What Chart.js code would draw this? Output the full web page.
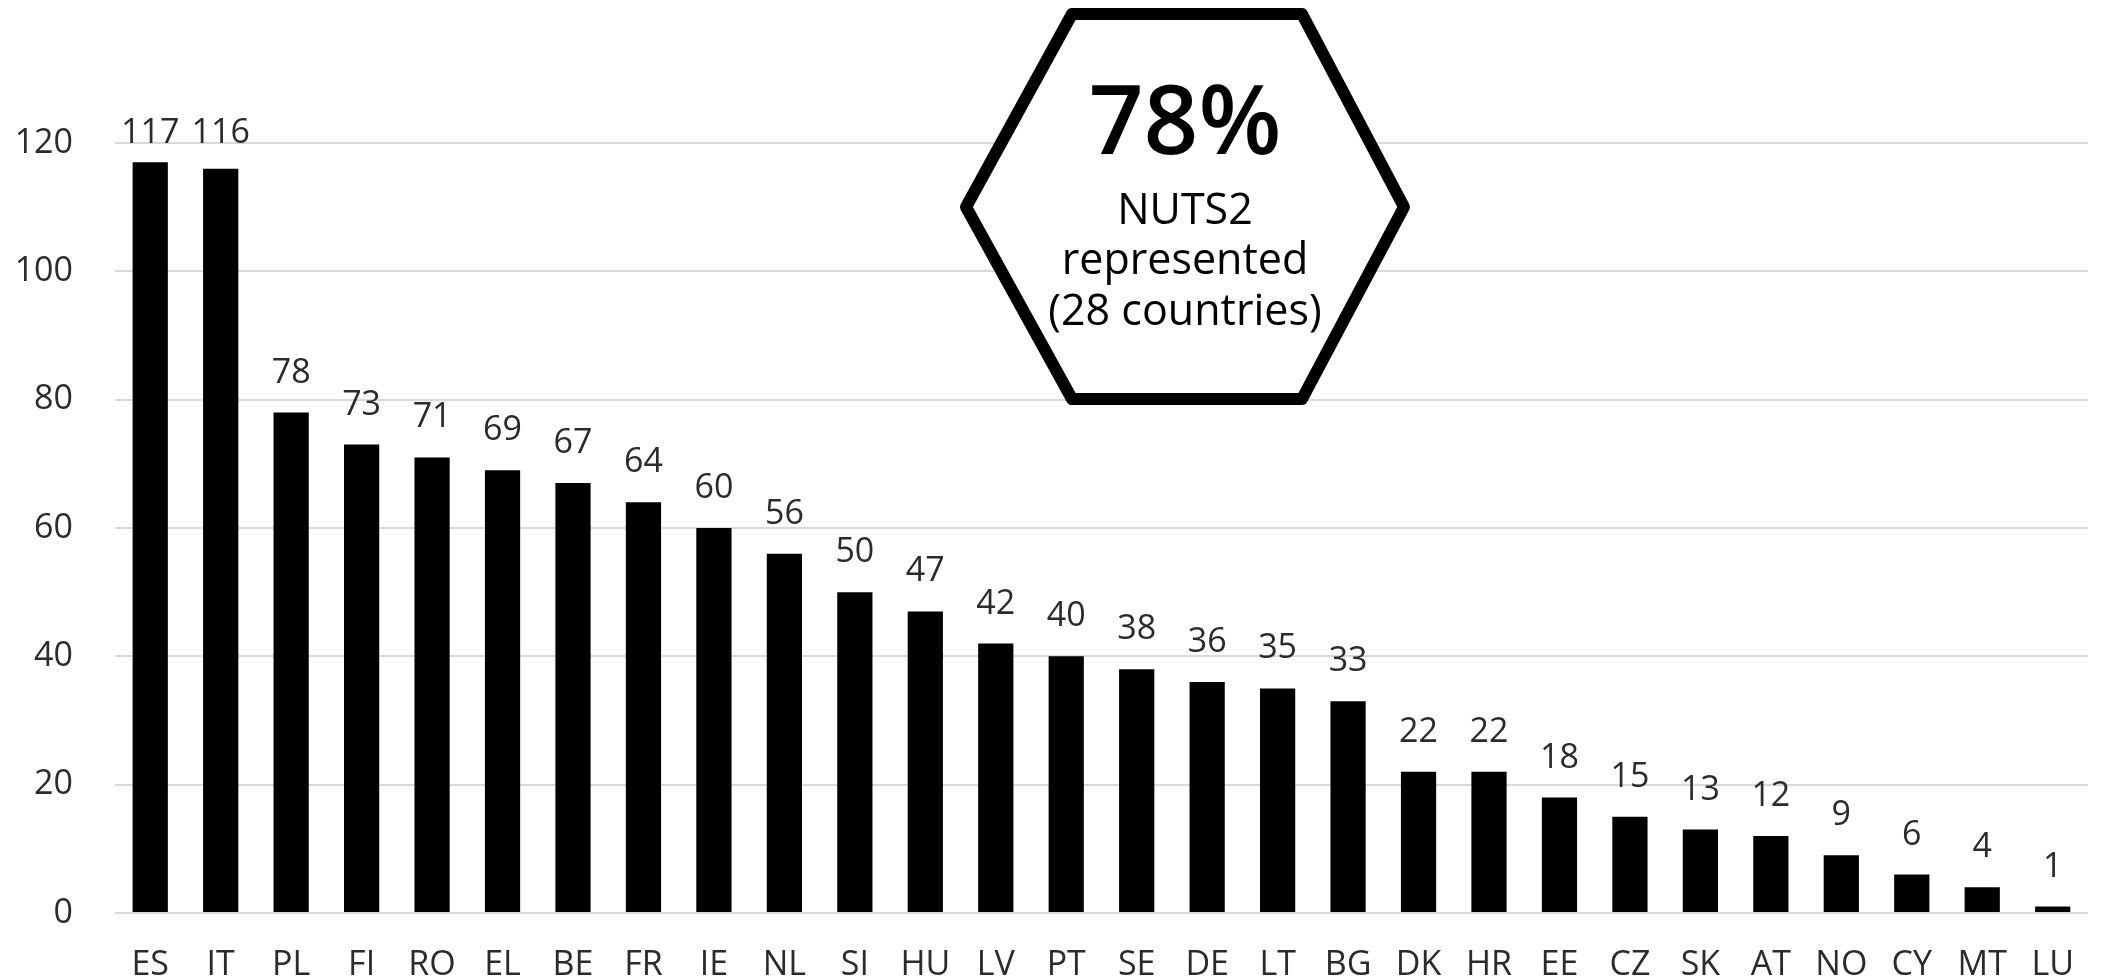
<!DOCTYPE html>
<html>
<head>
<meta charset="utf-8">
<script src="https://cdn.jsdelivr.net/npm/chart.js@4"></script>
<style>
  html, body { margin: 0; padding: 0; background: #fff; }
  #wrap { width: 2106px; height: 979px; }
</style>
</head>
<body>
<div id="wrap"><canvas id="nutsChart"></canvas></div>
<script>
// NUTS2 regions represented per country
const countries = ['ES', 'IT', 'PL', 'FI', 'RO', 'EL', 'BE', 'FR', 'IE', 'NL', 'SI', 'HU', 'LV', 'PT',
                   'SE', 'DE', 'LT', 'BG', 'DK', 'HR', 'EE', 'CZ', 'SK', 'AT', 'NO', 'CY', 'MT', 'LU'];
const regions = [117, 116, 78, 73, 71, 69, 67, 64, 60, 56, 50, 47, 42, 40,
                 38, 36, 35, 33, 22, 22, 18, 15, 13, 12, 9, 6, 4, 1];
const yTicks = [0, 20, 40, 60, 80, 100, 120];
const badgeLines = ['78%', 'NUTS2', 'represented', '(28 countries)'];

const textColor = '#2b2b2b';
const fontFamily = '"Open Sans", "Noto Sans", sans-serif';

// valeurs au-dessus des barres
const valueLabels = {
    id: 'valueLabels',
    afterDatasetsDraw(chart) {
        const ctx = chart.ctx;
        const meta = chart.getDatasetMeta(0);
        ctx.save();
        ctx.font = '34px ' + fontFamily;
        ctx.fillStyle = textColor;
        ctx.textAlign = 'center';
        ctx.textBaseline = 'alphabetic';
        meta.data.forEach((bar, i) => {
            const y = Math.max(bar.y - 30, chart.chartArea.top);
            ctx.fillText(regions[i], bar.x, y);
        });
        ctx.restore();
    }
};

// hexagone avec le pourcentage
const badge = {
    id: 'badge',
    afterDraw(chart) {
        const ctx = chart.ctx;
        ctx.save();
        ctx.beginPath();
        ctx.moveTo(966, 207);
        ctx.lineTo(1072, 14);
        ctx.lineTo(1302, 14);
        ctx.lineTo(1404, 207);
        ctx.lineTo(1302, 399);
        ctx.lineTo(1072, 399);
        ctx.closePath();
        ctx.fillStyle = '#ffffff';
        ctx.fill();
        ctx.lineWidth = 12;
        ctx.lineJoin = 'round';
        ctx.strokeStyle = '#000000';
        ctx.stroke();

        ctx.fillStyle = '#000000';
        ctx.textAlign = 'center';
        ctx.textBaseline = 'middle';
        ctx.font = '600 96px ' + fontFamily;
        ctx.fillText(badgeLines[0], 1185, 127);
        ctx.font = '43px ' + fontFamily;
        ctx.fillText(badgeLines[1], 1185, 212);
        ctx.fillText(badgeLines[2], 1185, 262);
        ctx.fillText(badgeLines[3], 1185, 313);
        ctx.restore();
    }
};

const ctx = document.getElementById('nutsChart').getContext('2d');
new Chart(ctx, {
    type: 'bar',
    data: {
        labels: countries,
        datasets: [{
            data: regions,
            backgroundColor: '#000000',
            borderWidth: 0,
            barPercentage: 0.5,
            categoryPercentage: 1.0
        }]
    },
    options: {
        responsive: true,
        maintainAspectRatio: false,
        animation: false,
        layout: { padding: { top: 143, right: 2, left: 0, bottom: 0 } },
        plugins: {
            legend: { display: false },
            tooltip: { enabled: false }
        },
        scales: {
            x: {
                grid: { display: false, drawTicks: false },
                border: { display: false },
                ticks: {
                    color: textColor,
                    font: { family: fontFamily, size: 34 },
                    padding: 32,
                    maxRotation: 0,
                    autoSkip: false
                },
                afterFit: scale => { scale.height = 66; }
            },
            y: {
                min: 0,
                max: 120,
                afterBuildTicks: scale => { scale.ticks = yTicks.map(v => ({ value: v })); },
                grid: { color: '#d9d9d9', lineWidth: 2, drawTicks: false },
                border: { display: false },
                ticks: {
                    color: textColor,
                    font: { family: fontFamily, size: 34 },
                    padding: 42
                },
                afterFit: scale => { scale.width = 115; }
            }
        }
    },
    plugins: [valueLabels, badge]
});
</script>
</body>
</html>
